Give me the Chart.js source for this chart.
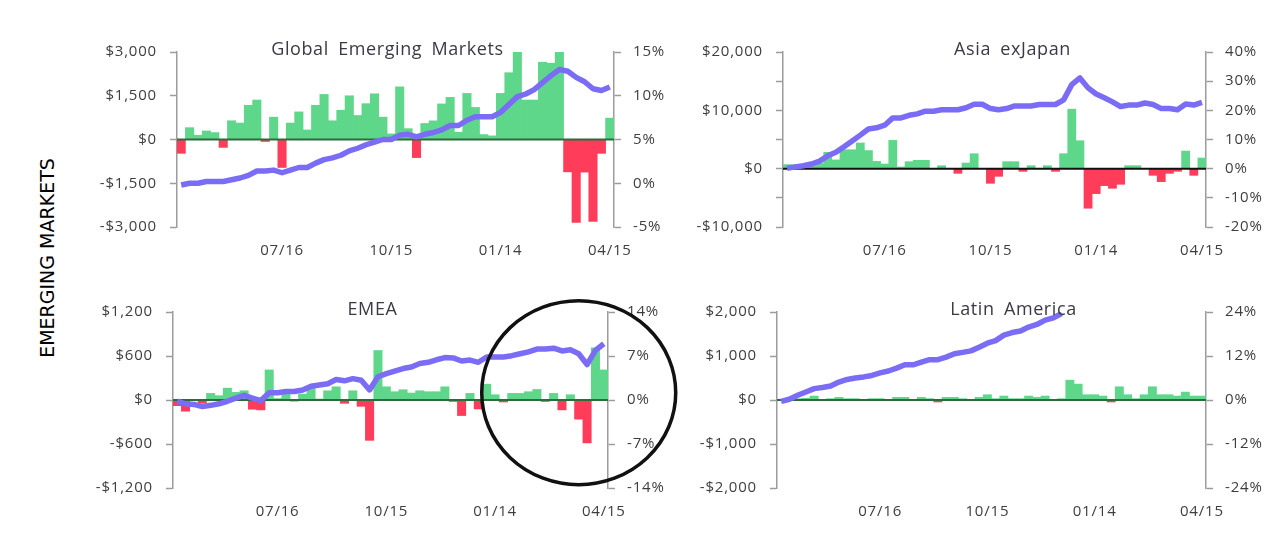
<!DOCTYPE html>
<html>
<head>
<meta charset="utf-8">
<script src="https://cdn.jsdelivr.net/npm/chart.js@4.4.1/dist/chart.umd.min.js"></script>
<style>
  body { margin: 0; background: #fff; width: 1281px; height: 534px; overflow: hidden; position: relative; }
  canvas { position: absolute; }
  #sideLabel {
    position: absolute; left: 47px; top: 258px;
    transform: translate(-50%, -50%) rotate(-90deg);
    font: 19px "DejaVu Sans", sans-serif; color: #000; white-space: nowrap;
  }
</style>
</head>
<body>
<div id="sideLabel">EMERGING MARKETS</div>
<canvas id="gem" width="590" height="232" style="left:90px;top:30px"></canvas>
<canvas id="asia" width="590" height="232" style="left:690px;top:30px"></canvas>
<canvas id="emea" width="590" height="233" style="left:90px;top:290px"></canvas>
<canvas id="latam" width="590" height="233" style="left:690px;top:290px"></canvas>
<script>
// Weekly flows ($m, left axis) and cumulative performance (%, right axis)
const weeks = ['04/23', '04/30', '05/07', '05/14', '05/21', '05/28', '06/04', '06/11', '06/18', '06/25',
  '07/02', '07/09', '07/16', '07/23', '07/30', '08/06', '08/13', '08/20', '08/27', '09/03',
  '09/10', '09/17', '09/24', '10/01', '10/08', '10/15', '10/22', '10/29', '11/05', '11/12',
  '11/19', '11/26', '12/03', '12/10', '12/17', '12/24', '12/31', '01/07', '01/14', '01/21',
  '01/28', '02/04', '02/11', '02/18', '02/25', '03/04', '03/11', '03/18', '03/25', '04/01',
  '04/08', '04/15'];
const tickLabels = ['07/16', '10/15', '01/14', '04/15'];

const gemFlows = [-474, 406, 147, 293, 237, -271, 643, 564, 1173, 1353, -68, 767, -959, 564, 947, 327, 1173, 1545, 643, 1004,
  1500, 823, 1229, 1568, 767, 192, 1805, 372, -620, 550, 640, 1220, 1444, 250, 1580, 1100, 169, 125, 1580, 2290,
  3000, 1353, 1353, 2650, 2617, 3000, -1110, -2843, -1117, -2808, -474, 733];
const gemPerf = [-0.2, 0.0, 0.0, 0.2, 0.2, 0.2, 0.4, 0.6, 0.9, 1.4, 1.4, 1.5, 1.2, 1.5, 1.8, 1.8, 2.3, 2.7, 2.9, 3.2,
  3.7, 4.0, 4.4, 4.7, 5.0, 5.0, 5.5, 5.6, 5.3, 5.6, 5.8, 6.1, 6.6, 6.6, 7.2, 7.6, 7.6, 7.6, 8.1, 9.0,
  9.9, 10.2, 10.7, 11.5, 12.3, 13.0, 12.8, 12.1, 11.6, 10.8, 10.6, 11.0];

const asiaFlows = [700, 650, 650, 700, 900, 2800, 1500, 3250, 3250, 4400, 3100, 1250, 800, 4850, 285, 1197, 1425, 1425, 0, 513,
  0, -798, 969, 2565, 0, -2508, -1311, 1197, 1197, -456, 513, 0, 513, -456, 2565, 10203, 4788, -6783, -4275, -2907,
  -3363, -2679, 513, 513, 0, -1140, -2223, -798, -456, 3021, -1140, 1824];
const asiaPerf = [0.1, 0.6, 1.0, 1.6, 2.6, 4.4, 5.6, 7.5, 9.5, 11.5, 13.6, 14.0, 14.9, 17.4, 17.4, 18.3, 18.8, 19.7, 19.7, 20.2,
  20.2, 20.2, 20.9, 22.1, 22.1, 20.6, 20.2, 20.6, 21.5, 21.5, 21.5, 22.0, 22.0, 22.0, 23.6, 28.8, 31.1, 27.7, 25.6, 24.3,
  22.9, 21.3, 21.8, 21.8, 22.5, 22.0, 20.6, 20.6, 20.2, 22.2, 21.8, 22.7];

const emeaFlows = [-77, -153, -10, -45, 90, 59, 162, 104, 126, -126, -135, 410, 20, 81, -15, 81, 162, 14, 126, 180,
  -45, 126, -86, -550, 675, 180, 113, 140, 95, 126, 113, 113, 180, -20, -212, 90, -122, 216, 72, -27,
  90, 90, 113, 144, -20, 90, -135, 72, -261, -585, 711, 410];
const emeaPerf = [-0.2, -0.6, -0.7, -1.05, -0.85, -0.6, -0.2, 0.3, 0.75, 0.3, -0.1, 1.15, 1.15, 1.35, 1.35, 1.6, 2.2, 2.4, 2.6, 3.25,
  3.05, 3.4, 3.15, 1.6, 3.7, 4.2, 4.6, 5.0, 5.25, 5.8, 6.0, 6.4, 6.75, 6.7, 6.2, 6.35, 6.0, 6.85, 6.85, 6.85,
  7.05, 7.35, 7.65, 8.1, 8.1, 8.25, 7.8, 8.0, 7.35, 5.65, 7.9, 8.95];

const latamFlows = [-15, 15, 30, 40, 90, 10, 30, 60, 30, 30, 10, 30, 30, 10, 60, 60, 10, 60, 30, -45,
  60, 60, 30, 10, 60, 120, 30, 90, 30, 30, 90, 60, 90, 10, 30, 451, 361, 120, 120, 90,
  -45, 301, 120, 30, 120, 301, 120, 120, 90, 180, 90, 90];
const latamPerf = [-0.4, 0.2, 1.3, 2.2, 3.1, 3.4, 3.8, 4.9, 5.6, 6.0, 6.3, 6.7, 7.4, 7.9, 8.7, 9.6, 9.6, 10.3, 11.0, 11.0,
  11.7, 12.6, 13.0, 13.4, 14.4, 15.5, 16.2, 17.7, 18.4, 18.8, 19.9, 20.6, 21.8, 22.4, 23.6, null, null, null, null, null,
  null, null, null, null, null, null, null, null, null, null, null, null];

// Highlight circle on EMEA (week index, flow value at centre)
const circleAt = { index: 48, value: 100 };

const GREEN = '#5fd78a';
const RED = '#ff3c5a';
const PURPLE = '#7a6cf5';
const AXIS = '#9c9c9c';
const TEXT = '#3e3e3e';
const FONT = '"Open Sans", sans-serif';

function money(v) {
    const s = '$' + Math.abs(v).toLocaleString('en-US');
    return v < 0 ? '-' + s : s;
}

// a touch of letter spacing so the labels come out as wide as the original
const spacing = {
    id: 'spacing',
    beforeLayout(chart) { chart.ctx.letterSpacing = '0.8px'; }
};

// zero line drawn right after the bars, under the performance line
const zeroLine = {
    id: 'zeroLine',
    afterDatasetDraw(chart, args, opts) {
        if (args.index !== 1) return;
        const ctx = chart.ctx;
        const y = chart.scales.y.getPixelForValue(0);
        ctx.save();
        ctx.strokeStyle = opts.color;
        ctx.lineWidth = 2;
        ctx.beginPath();
        ctx.moveTo(chart.chartArea.left, y);
        ctx.lineTo(chart.chartArea.right, y);
        ctx.stroke();
        ctx.restore();
    }
};

// panel title sits on top edge of the plot
const panelTitle = {
    id: 'panelTitle',
    afterDraw(chart, args, opts) {
        const ctx = chart.ctx;
        const a = chart.chartArea;
        ctx.save();
        ctx.font = '18px ' + FONT;
        ctx.letterSpacing = '0.6px';
        ctx.wordSpacing = '4px';
        ctx.fillStyle = '#3a3a46';
        ctx.textAlign = 'center';
        ctx.textBaseline = 'alphabetic';
        ctx.fillText(opts.text, (a.left + a.right) / 2 + opts.dx, a.top + 3);
        ctx.restore();
    }
};

const circleMark = {
    id: 'circleMark',
    afterDraw(chart, args, opts) {
        if (!opts.show) return;
        const ctx = chart.ctx;
        const x = chart.scales.x.getPixelForValue(circleAt.index);
        const y = chart.scales.y.getPixelForValue(circleAt.value);
        ctx.save();
        ctx.strokeStyle = '#111';
        ctx.lineWidth = 3.5;
        ctx.beginPath();
        ctx.ellipse(x, y, 97, 92, 0, 0, Math.PI * 2);
        ctx.stroke();
        ctx.restore();
    }
};

function makePanel(id, p) {
    const ctx = document.getElementById(id).getContext('2d');
    return new Chart(ctx, {
        type: 'bar',
        data: {
            labels: weeks,
            datasets: [
                {
                    type: 'line',
                    data: p.perf,
                    yAxisID: 'y1',
                    borderColor: PURPLE,
                    borderWidth: 5.5,
                    pointRadius: 0,
                    tension: 0,
                    borderJoinStyle: 'round',
                    order: 0
                },
                {
                    type: 'bar',
                    data: p.flows,
                    yAxisID: 'y',
                    backgroundColor: p.flows.map(v => v < 0 ? RED : GREEN),
                    borderWidth: 0,
                    barPercentage: 1,
                    categoryPercentage: 1,
                    order: 1
                }
            ]
        },
        options: {
            responsive: false,
            animation: false,
            layout: { padding: { top: p.padTop, left: 0, right: 0, bottom: 0 } },
            plugins: {
                legend: { display: false },
                tooltip: { enabled: false },
                zeroLine: { color: p.zeroColor },
                panelTitle: { text: p.title, dx: p.titleDx },
                circleMark: { show: !!p.circle }
            },
            scales: {
                x: {
                    offset: true,
                    grid: { display: false, drawTicks: false },
                    border: { display: false },
                    ticks: {
                        autoSkip: false,
                        maxRotation: 0,
                        minRotation: 0,
                        padding: 15,
                        color: TEXT,
                        font: { family: FONT, size: 15 },
                        callback: (v, i) => tickLabels.includes(weeks[i]) ? weeks[i] : ''
                    },
                    afterFit: s => { s.height = 35; }
                },
                y: {
                    position: 'left',
                    min: p.yMin,
                    max: p.yMax,
                    ticks: {
                        stepSize: p.yStep,
                        padding: 13,
                        color: TEXT,
                        font: { family: FONT, size: 15 },
                        callback: v => (v % p.yLabelStep === 0 ? money(v) : '')
                    },
                    grid: { drawOnChartArea: false, drawTicks: true, tickLength: 7, tickColor: AXIS, tickWidth: 1.5 },
                    border: { display: true, color: AXIS, width: 1.5 },
                    afterFit: s => { s.width = p.leftW; }
                },
                y1: {
                    position: 'right',
                    min: p.y1Min,
                    max: p.y1Max,
                    ticks: {
                        stepSize: p.y1Step,
                        padding: 12,
                        color: TEXT,
                        font: { family: FONT, size: 15 },
                        callback: v => v + '%'
                    },
                    grid: { drawOnChartArea: false, drawTicks: true, tickLength: 7, tickColor: AXIS, tickWidth: 1.5 },
                    border: { display: true, color: AXIS, width: 1.5 },
                    afterFit: s => { s.width = p.rightW; }
                }
            }
        },
        plugins: [spacing, zeroLine, panelTitle, circleMark]
    });
}

makePanel('gem', {
    title: 'Global Emerging Markets', titleDx: -8,
    flows: gemFlows, perf: gemPerf,
    yMin: -3000, yMax: 3000, yStep: 1500, yLabelStep: 1500,
    y1Min: -5, y1Max: 15, y1Step: 5,
    leftW: 87, rightW: 66, padTop: 19, zeroColor: '#2f6a3d'
});

makePanel('asia', {
    title: 'Asia exJapan', titleDx: 18,
    flows: asiaFlows, perf: asiaPerf,
    yMin: -10000, yMax: 20000, yStep: 5000, yLabelStep: 10000,
    y1Min: -20, y1Max: 40, y1Step: 10,
    leftW: 93, rightW: 74, padTop: 20, zeroColor: '#111111'
});

makePanel('emea', {
    title: 'EMEA', titleDx: -18,
    flows: emeaFlows, perf: emeaPerf,
    yMin: -1200, yMax: 1200, yStep: 600, yLabelStep: 600,
    y1Min: -14, y1Max: 14, y1Step: 7,
    leftW: 83, rightW: 72, padTop: 21, zeroColor: '#2f6a3d',
    circle: true
});

makePanel('latam', {
    title: 'Latin America', titleDx: 22,
    flows: latamFlows, perf: latamPerf,
    yMin: -2000, yMax: 2000, yStep: 1000, yLabelStep: 1000,
    y1Min: -24, y1Max: 24, y1Step: 12,
    leftW: 87, rightW: 74, padTop: 21, zeroColor: '#2f6a3d'
});
</script>
</body>
</html>
